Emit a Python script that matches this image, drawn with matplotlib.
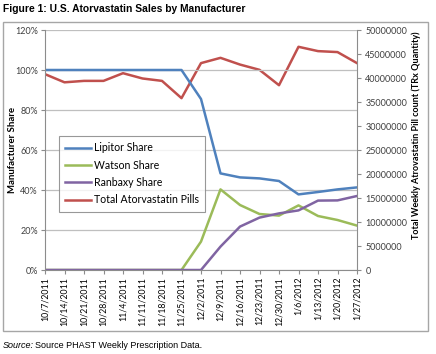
import matplotlib
matplotlib.use("Agg")
import matplotlib.pyplot as plt
from matplotlib.patches import Rectangle
from matplotlib.ticker import FuncFormatter

dates = ["10/7/2011", "10/14/2011", "10/21/2011", "10/28/2011", "11/4/2011",
         "11/11/2011", "11/18/2011", "11/25/2011", "12/2/2011", "12/9/2011",
         "12/16/2011", "12/23/2011", "12/30/2011", "1/6/2012", "1/13/2012",
         "1/20/2012", "1/27/2012"]
lipitor = [100, 100, 100, 100, 100, 100, 100, 100, 85.5, 48.3, 46.3, 45.8, 44.5, 37.8, 39.0, 40.3, 41.3]
watson = [0, 0, 0, 0, 0, 0, 0, 0, 14.2, 40.3, 32.5, 28.0, 27.2, 32.3, 27.0, 25.0, 22.2]
ranbaxy = [0, 0, 0, 0, 0, 0, 0, 0, 0, 11.7, 21.7, 26.2, 28.3, 29.8, 34.7, 34.8, 37.0]
total = [40.8e6, 39.1e6, 39.4e6, 39.4e6, 41.0e6, 39.9e6, 39.4e6, 35.8e6, 43.1e6,
         44.2e6, 42.8e6, 41.7e6, 38.5e6, 46.5e6, 45.6e6, 45.4e6, 43.1e6]

C_LIP = "#4F81BD"
C_WAT = "#9BBB59"
C_RAN = "#8064A2"
C_TOT = "#C0504D"
GRID = "#BFBFBF"
AX = "#8C8C8C"
TXT = "#404040"

fig = plt.figure(figsize=(4.36, 3.54), dpi=100)
W, H = 436, 354

# chart border
fig.patches.append(Rectangle((3 / W, 1 - 331 / H), 425 / W, 309 / H,
                             transform=fig.transFigure, fill=False,
                             edgecolor="#A6A6A6", linewidth=1.0))

ax = fig.add_axes([45 / W, 1 - 270 / H, 312 / W, 240 / H])
ax2 = ax.twinx()

x = list(range(len(dates)))
l1, = ax.plot(x, lipitor, color=C_LIP, lw=1.8, label="Lipitor Share")
l2, = ax.plot(x, watson, color=C_WAT, lw=1.8, label="Watson Share")
l3, = ax.plot(x, ranbaxy, color=C_RAN, lw=1.8, label="Ranbaxy Share")
l4, = ax2.plot(x, total, color=C_TOT, lw=1.8, label="Total Atorvastatin Pills")

ax.set_xlim(0, len(dates) - 1)
ax.set_ylim(0, 120)
ax.set_yticks(range(0, 121, 20))
ax.yaxis.set_major_formatter(FuncFormatter(lambda v, p: f"{int(v)}%"))
ax2.set_ylim(0, 50000000)
ax2.set_yticks(range(0, 50000001, 5000000))
ax2.yaxis.set_major_formatter(FuncFormatter(lambda v, p: f"{int(v)}"))

ax.set_xticks(x)
ax.set_xticklabels(dates, rotation=90, fontsize=6.3, color="black", family="Lato")
ax.grid(axis="y", color=GRID, lw=0.9)
ax.set_axisbelow(True)

for a in (ax, ax2):
    for s in a.spines.values():
        s.set_visible(False)
ax.spines["left"].set_visible(True)
ax.spines["left"].set_color(AX)
ax.spines["bottom"].set_visible(True)
ax.spines["bottom"].set_color(AX)
ax2.spines["right"].set_visible(True)
ax2.spines["right"].set_color(AX)

ax.tick_params(axis="y", labelsize=6.5, labelcolor=TXT, color=AX, length=3, pad=2)
ax.tick_params(axis="x", color=AX, length=3, pad=2)
ax2.tick_params(axis="y", labelsize=6.5, labelcolor=TXT, color=AX, length=3, pad=3)
for lab in ax.get_yticklabels() + ax2.get_yticklabels():
    lab.set_family("Lato")

ax.set_ylabel("Manufacturer Share", fontsize=6.9, fontweight="bold", family="Lato")
ax.yaxis.set_label_coords((17 - 45) / 312, 0.5)
ax2.set_ylabel("Total Weekly Atrovastatin Pill count (TRx Quantity)", fontsize=6.5,
               fontweight="bold", family="Lato")
ax2.yaxis.set_label_coords((411 - 45) / 312, (270 - 135) / 240)

leg = ax.legend(handles=[l1, l2, l3, l4], loc="upper left",
                bbox_to_anchor=((59 - 45) / 312, (270 - 136) / 240),
                borderaxespad=0.0,
                frameon=True, fancybox=False, borderpad=0.6,
                handlelength=2.4, handletextpad=0.3, labelspacing=0.6,
                prop={"family": "Lato", "size": 7.6})
leg.get_frame().set_edgecolor("#7F7F7F")
leg.get_frame().set_linewidth(0.8)
leg.set_zorder(10)
ax.set_zorder(ax2.get_zorder() + 1)
ax.patch.set_visible(False)

fig.text(3 / W, 1 - 9 / H, "Figure 1: U.S. Atorvastatin Sales by Manufacturer",
         fontsize=7.4, fontweight="bold", family="Liberation Sans", va="center", ha="left")

fig.text(3 / W, 1 - 346 / H, "Source:", fontsize=6.5, style="italic",
         family="Liberation Sans", va="center", ha="left")
fig.text(35 / W, 1 - 346 / H, "Source PHAST Weekly Prescription Data.", fontsize=6.5,
         family="Liberation Sans", va="center", ha="left")

fig.savefig("out.png", dpi=100)
